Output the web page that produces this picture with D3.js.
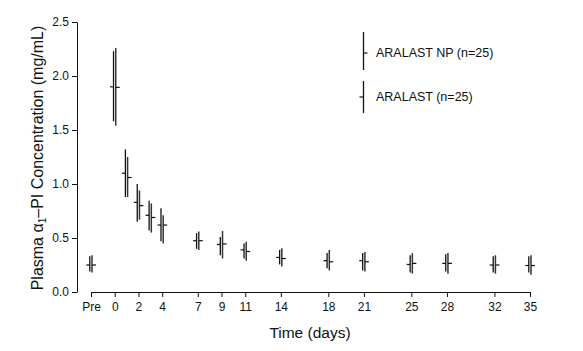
<!DOCTYPE html>
<html>
<head>
<meta charset="utf-8">
<script src="https://cdn.jsdelivr.net/npm/d3@7"></script>
<style>
  body { margin: 0; background: #fff; }
  svg { display: block; font-family: "Liberation Sans", Arial, Helvetica, sans-serif; }
  .axis text { font-size: 12px; fill: #111; }
  .axis path, .axis line { stroke: #111; }
</style>
</head>
<body>
<svg width="583" height="351"></svg>
<script>
// Time points (Pre plotted at day -2)
const days = [-2, 0, 1, 2, 3, 4, 7, 9, 11, 14, 18, 21, 25, 28, 32, 35];
const tickDays = [-2, 0, 2, 4, 7, 9, 11, 14, 18, 21, 25, 28, 32, 35];
const tickLabels = ["Pre", "0", "2", "4", "7", "9", "11", "14", "18", "21", "25", "28", "32", "35"];
const yTicks = [0, 0.5, 1.0, 1.5, 2.0, 2.5];

// ARALAST (n=25): mean and range
const aralastMean = [0.25, 1.90, 1.10, 0.83, 0.71, 0.62, 0.475, 0.44, 0.39, 0.32, 0.29, 0.29, 0.255, 0.265, 0.25, 0.245];
const aralastLow  = [0.19, 1.58, 0.88, 0.65, 0.57, 0.47, 0.40, 0.34, 0.31, 0.255, 0.22, 0.20, 0.18, 0.19, 0.18, 0.18];
const aralastHigh = [0.33, 2.23, 1.32, 1.00, 0.845, 0.775, 0.545, 0.51, 0.45, 0.39, 0.36, 0.36, 0.34, 0.35, 0.33, 0.33];

// ARALAST NP (n=25): mean and range
const npMean = [0.25, 1.895, 1.06, 0.80, 0.69, 0.62, 0.475, 0.445, 0.375, 0.31, 0.28, 0.28, 0.265, 0.265, 0.25, 0.245];
const npLow  = [0.18, 1.54, 0.88, 0.67, 0.55, 0.45, 0.39, 0.31, 0.29, 0.235, 0.20, 0.19, 0.17, 0.17, 0.17, 0.16];
const npHigh = [0.34, 2.26, 1.25, 0.94, 0.82, 0.71, 0.56, 0.565, 0.465, 0.405, 0.39, 0.37, 0.36, 0.36, 0.34, 0.34];

const svg = d3.select("svg");

const x = d3.scaleLinear().domain([-2, 35]).range([91, 530]);
const y = d3.scaleLinear().domain([0, 2.5]).range([292, 22]);

// Y axis
svg.append("g")
    .attr("class", "axis")
    .attr("transform", "translate(77,0)")
    .call(d3.axisLeft(y).tickValues(yTicks).tickFormat(d3.format(".1f")).tickSize(5).tickSizeOuter(0).tickPadding(3));

// X axis
svg.append("g")
    .attr("class", "axis")
    .attr("transform", "translate(0,292)")
    .call(d3.axisBottom(x).tickValues(tickDays).tickFormat((d, i) => tickLabels[i]).tickSize(5).tickSizeOuter(0).tickPadding(5));

// Axis titles
const yTitle = svg.append("text")
    .attr("transform", "translate(43,158) rotate(-90)")
    .attr("text-anchor", "middle")
    .style("font-size", "16px")
    .attr("fill", "#111");
yTitle.append("tspan").text("Plasma \u03B1");
yTitle.append("tspan").text("1").style("font-size", "10px").attr("dy", 3);
yTitle.append("tspan").text("\u2013PI Concentration (mg/mL)").attr("dy", -3);

svg.append("text")
    .attr("x", 310)
    .attr("y", 338)
    .attr("text-anchor", "middle")
    .style("font-size", "15.5px")
    .attr("fill", "#111")
    .text("Time (days)");

// Series marks
const series = [
  {name: "ARALAST", mean: aralastMean, low: aralastLow, high: aralastHigh, dx: -1.2, tick: -3.5, color: "#111", w: 1.3},
  {name: "ARALAST NP", mean: npMean, low: npLow, high: npHigh, dx: 1, tick: 4, color: "#333", w: 1.5}
];

series.forEach(s => {
  const g = svg.append("g");
  g.selectAll("line.range")
    .data(days)
    .enter()
    .append("line")
    .attr("x1", (d) => x(d) + s.dx)
    .attr("x2", (d) => x(d) + s.dx)
    .attr("y1", (d, i) => y(s.high[i]))
    .attr("y2", (d, i) => y(s.low[i]))
    .attr("stroke", s.color)
    .attr("stroke-width", s.w);
  g.selectAll("line.mean")
    .data(days)
    .enter()
    .append("line")
    .attr("x1", (d) => x(d) + s.dx)
    .attr("x2", (d) => x(d) + s.dx + s.tick)
    .attr("y1", (d, i) => y(s.mean[i]))
    .attr("y2", (d, i) => y(s.mean[i]))
    .attr("stroke", "#111")
    .attr("stroke-width", 1.2);
});

// Legend
const legend = [
  {label: "ARALAST NP (n=25)", top: 32, bottom: 70, mid: 53, tick: 4, ty: 57},
  {label: "ARALAST (n=25)", top: 81, bottom: 113, mid: 97, tick: -4, ty: 101}
];
legend.forEach(l => {
  svg.append("line").attr("x1", 363.5).attr("x2", 363.5).attr("y1", l.top).attr("y2", l.bottom)
    .attr("stroke", "#111").attr("stroke-width", 1.3);
  svg.append("line").attr("x1", 363.5).attr("x2", 363.5 + l.tick).attr("y1", l.mid).attr("y2", l.mid)
    .attr("stroke", "#111").attr("stroke-width", 1.2);
  svg.append("text").attr("x", 376).attr("y", l.ty)
    .style("font-size", "12.5px").attr("fill", "#111").text(l.label);
});
</script>
</body>
</html>
